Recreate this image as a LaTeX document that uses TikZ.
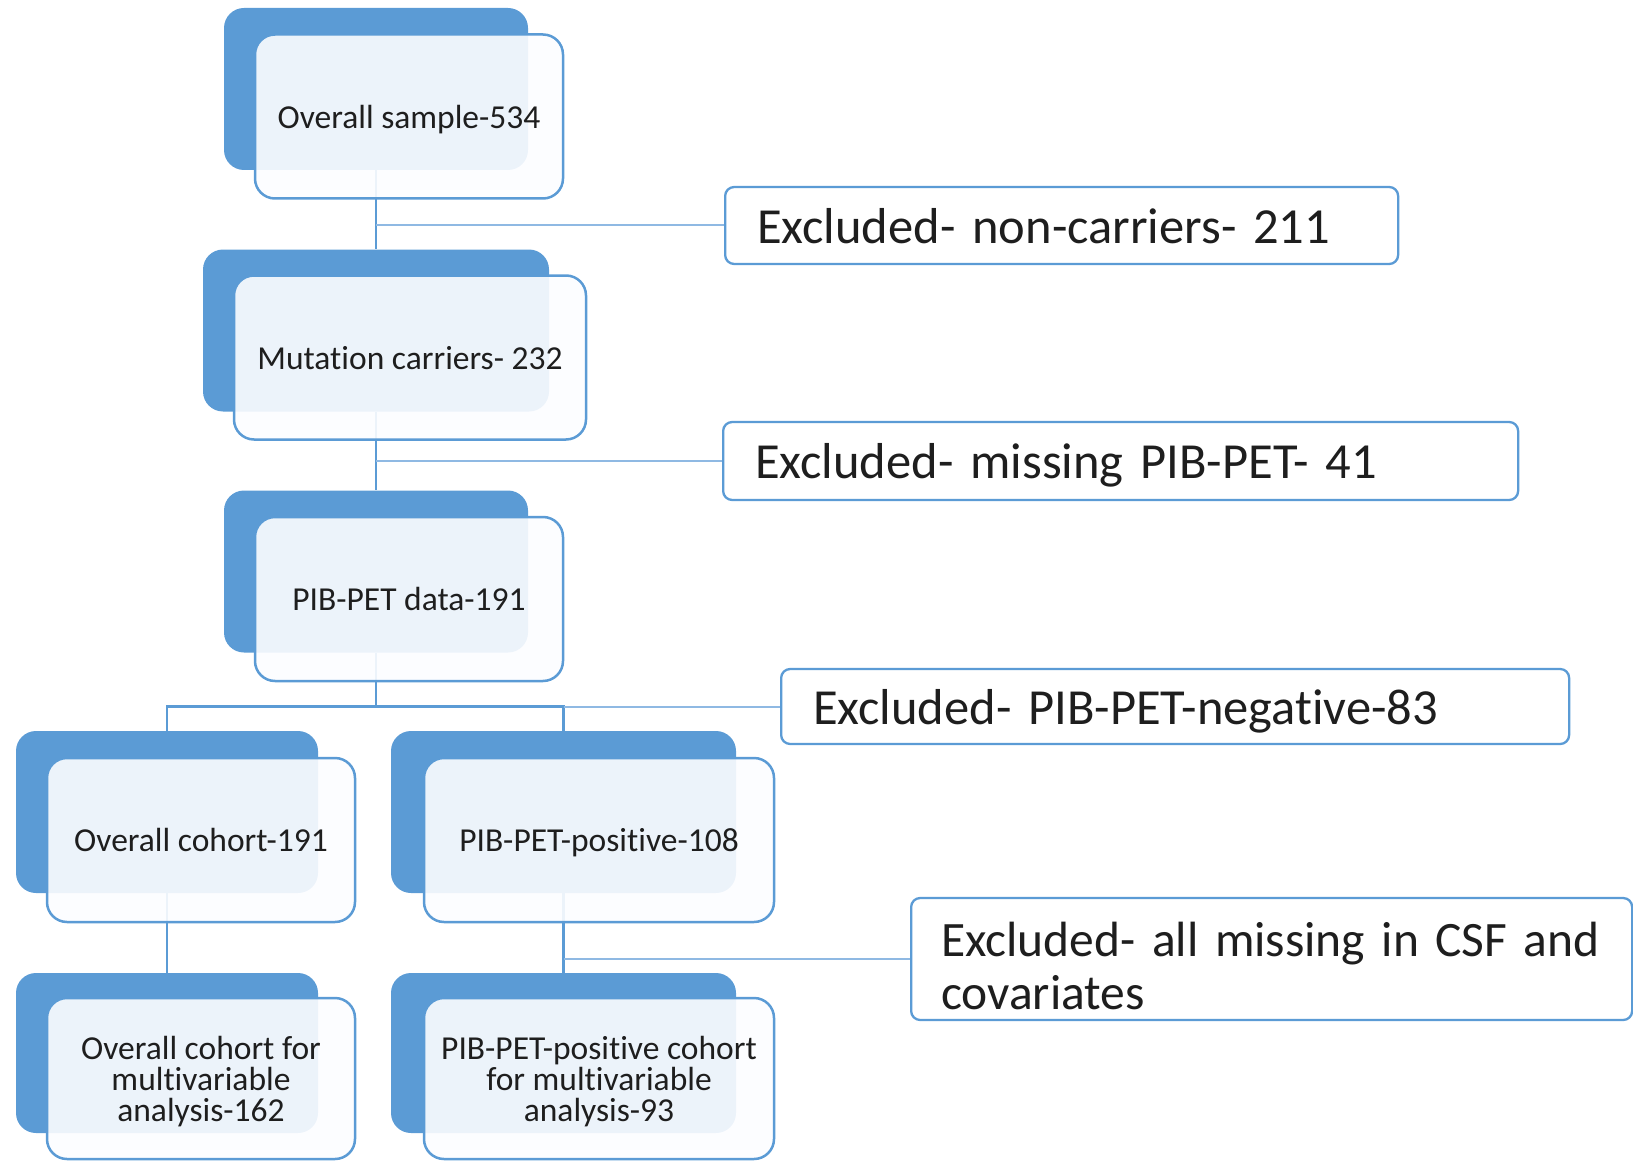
\documentclass[tikz,border=0pt]{standalone}
\usepackage{fontspec}
\setmainfont{Carlito}[RawFeature = {-liga;-clig;-calt;-dlig}]
\usetikzlibrary{
    backgrounds,
    calc
}
\definecolor{boxblue}{RGB}{91,155,213}
\definecolor{lineblue}{RGB}{143,185,227}
\definecolor{paleblue}{RGB}{252,253,255}
\definecolor{inktext}{RGB}{30,30,30}
\tikzset {
    back box/.style = {fill = boxblue, rounded corners = 20pt,
        inner sep = 0pt, minimum height = 162pt},
    front box/.style = {draw = boxblue, line width = 2.5pt, fill = paleblue,
        fill opacity = 0.9, text opacity = 1, rounded corners = 20pt,
        inner sep = 0pt, minimum height = 164pt, align = center,
        text depth = 0pt, text = inktext,
        font = \fontsize{33.5}{31}\selectfont},
    excl box/.style = {draw = boxblue, line width = 2.3pt, fill = white,
        rounded corners = 9pt, anchor = west, inner xsep = 32pt,
        inner ysep = 0pt, align = left, text depth = 0pt, text = inktext,
        font = \fontsize{50.5}{53}\selectfont},
    link/.style = {draw = boxblue, line width = 2.8pt},
    thin link/.style = {draw = lineblue, line width = 2pt}
}
\begin{document}
\begin{tikzpicture}[x = 1pt, y = -1pt]
    \useasboundingbox (0, 0) rectangle (1633, 1161);
    % main column
    \node (b1) [back box, minimum width = 304pt] at (376, 89) {};
    \node (f1) [front box, minimum width = 308pt] at (409, 116.5) {Overall sample-534};
    \node (b2) [back box, minimum width = 346pt] at (376, 330.5) {};
    \node (f2) [front box, minimum width = 352pt] at (410, 357.5) {Mutation carriers- 232};
    \node (b3) [back box, minimum width = 304pt] at (376, 571.5) {};
    \node (f3) [front box, minimum width = 308pt] at (409, 599) {PIB-PET data-191};
    % two branches
    \node (b4) [back box, minimum width = 302pt] at (167, 812) {};
    \node (f4) [front box, minimum width = 308pt] at (201, 840) {Overall cohort-191};
    \node (b5) [back box, minimum width = 345pt] at (563.5, 812) {};
    \node (f5) [front box, minimum width = 350pt] at (599, 840) {PIB-PET-positive-108};
    \node (b6) [back box, minimum width = 302pt, minimum height = 160pt] at (167, 1053) {};
    \node (f6) [front box, minimum width = 308pt, minimum height = 161pt] at (201, 1078.5)
        {Overall cohort for\\multivariable\\analysis-162};
    \node (b7) [back box, minimum width = 345pt, minimum height = 160pt] at (563.5, 1053) {};
    \node (f7) [front box, minimum width = 350pt, minimum height = 161pt] at (599, 1078.5)
        {PIB-PET-positive cohort\\for multivariable\\analysis-93};
    % exclusions
    \node (e1) [excl box, minimum height = 77pt, text width = 609pt] at (724, 225.5)
        {Excluded- non-carriers- 211};
    \node (e2) [excl box, minimum height = 78pt, text width = 731pt] at (722, 461)
        {Excluded- missing PIB-PET- 41};
    \node (e3) [excl box, minimum height = 75pt, text width = 724pt] at (780, 706.5)
        {Excluded- PIB-PET-negative-83};
    \node (e4) [excl box, minimum height = 122pt, text width = 661pt, inner xsep = 30pt,
        text depth = 40pt, font = \fontsize{49.5}{53}\selectfont] at (910, 959)
        {Excluded- all missing in CSF and\\covariates};
    \begin{scope}[on background layer]
        \draw [link] (b1.south) -- (b2.north);
        \draw [thin link] (b1.south |- e1.west) -- (e1.west);
        \draw [link] (b2.south) -- (b3.north);
        \draw [thin link] (b2.south |- e2.west) -- (e2.west);
        \draw [link] (b3.south) -- (b3.south |- e3.west);
        \draw [link] (b4.north) |- (b5.north |- e3.west) -- (b5.north);
        \draw [thin link] (b5.north |- e3.west) -- (e3.west);
        \draw [link] (b4.south) -- (b6.north);
        \draw [link] (b5.south) -- (b7.north);
        \draw [thin link] (b5.south |- e4.west) -- (e4.west);
    \end{scope}
\end{tikzpicture}
\end{document}
